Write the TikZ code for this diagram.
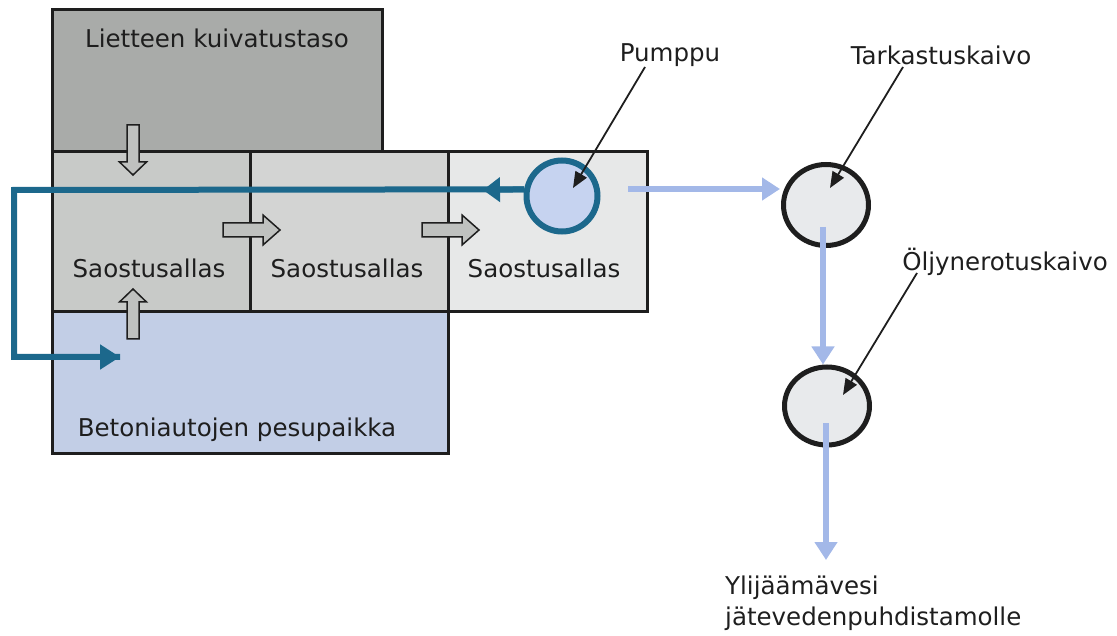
\documentclass[tikz,border=0pt]{standalone}
\usepackage{fontspec}
\setmainfont{DejaVu Sans}
\usetikzlibrary{arrows.meta,calc,shapes.geometric}
\definecolor{drygrey}{HTML}{A9ABA9}
\definecolor{poolA}{HTML}{C8CAC8}
\definecolor{poolB}{HTML}{D3D4D3}
\definecolor{poolC}{HTML}{E7E8E8}
\definecolor{washblue}{HTML}{C2CEE6}
\definecolor{pumpfill}{HTML}{C6D3F0}
\definecolor{pumpring}{HTML}{1C688C}
\definecolor{wellfill}{HTML}{E8EAEC}
\definecolor{flowblue}{HTML}{A3B8E8}
\definecolor{arrgrey}{HTML}{BFC1BF}
\definecolor{ink}{HTML}{1E1E1E}
\tikzset{
  area/.style={draw=ink, line width=3pt, rectangle, inner sep=0pt},
  lbl/.style={font=\fontsize{24.5}{31}\selectfont, text=ink, inner sep=0pt},
  well/.style={draw=ink, fill=wellfill, line width=5pt, ellipse, inner sep=0pt},
  flow/.style={draw=flowblue, line width=6pt, -{Triangle[length=18pt,width=22pt]}},
  recirc/.style={draw=pumpring, line width=6pt},
  pointer/.style={draw=ink, line width=1.8pt, -{Triangle[length=16pt,width=13pt]}},
  vblock/.pic={\draw[fill=arrgrey, draw=ink, line width=1.5pt]
     (0,-6) -- (37,-6) -- (37,-13.5) -- (50,0) -- (37,13.5) -- (37,6) -- (0,6) -- cycle;},
  hblock/.pic={\draw[fill=arrgrey, draw=ink, line width=1.5pt]
     (0,-7) -- (40,-7) -- (40,-15) -- (57,0) -- (40,15) -- (40,7) -- (0,7) -- cycle;}
}
\begin{document}
\begin{tikzpicture}[x=1pt,y=-1pt]
\useasboundingbox (0,0) rectangle (1117,636);
% areas
\node[area, fill=drygrey, minimum width=330pt, minimum height=142pt] (dry) at (217,81) {};
\node[area, fill=washblue, minimum width=396pt, minimum height=141pt] (wash) at (250,382.5) {};
\node[area, fill=poolA, minimum width=198pt, minimum height=160pt] (poolA) at (151,232) {};
\node[area, fill=poolB, minimum width=198pt, minimum height=160pt] (poolB) at (349,232) {};
\node[area, fill=poolC, minimum width=199pt, minimum height=160pt] (poolC) at (547.5,232) {};
% labels in areas
\node[lbl] (drylbl) at (217,38) {Lietteen kuivatustaso};
\node[lbl] (lblA) at (149,268) {Saostusallas};
\node[lbl] (lblB) at (347,268) {Saostusallas};
\node[lbl] (lblC) at (544,268) {Saostusallas};
\node[lbl] (washlbl) at (237,430) {Betoniautojen pesupaikka};
% block arrows
\pic at (133,125) [rotate=-90] {vblock};
\pic at (133,339) [rotate=90] {vblock};
\pic at (223,230) {hblock};
\pic at (422,230) {hblock};
% pump and recirculation
\node[circle, draw=pumpring, fill=pumpfill, line width=6pt, minimum size=71pt, inner sep=0pt] (pump) at (562,196) {};
\coordinate (c1) at (14,190);
\coordinate (c2) at (14,357);
\coordinate (c3) at (120,357);
\draw[recirc, line cap=butt] (pump.170) -- (c1) -- (c2) -- (c3);
\draw[recirc, -{Triangle[length=17pt,width=24pt]}] (pump.170) -- (483,190);
\draw[recirc, -{Triangle[length=20pt,width=24pt]}] (c2) -- (c3);
% wells
\node[well, minimum width=85pt, minimum height=81pt] (tk) at (826,205) {};
\node[well, minimum width=85pt, minimum height=78pt] (oe) at (827,406) {};
% flows
\coordinate (f0) at (628,189);
\draw[flow] (f0) -- (780,189);
\draw[flow] ($(tk.center)+(-3,22)$) -- ($(oe.north)+(-4,0)$);
\coordinate (fend) at (826,560);
\draw[flow] ($(oe.center)+(-1,17)$) -- (fend);
% labels with pointers
\node[lbl] (pumplbl) at (670,55) {Pumppu};
\node[lbl] (tklbl) at (941,55) {Tarkastuskaivo};
\node[lbl] (oelbl) at (1005,262) {Öljynerotuskaivo};
\node[lbl, anchor=west, align=left] (outlbl) at (725,603) {Ylijäämävesi\\jätevedenpuhdistamolle};
\draw[pointer] (645,67) -- ($(pump.center)+(11,-8)$);
\draw[pointer] (903,67) -- ($(tk.center)+(4,-17)$);
\draw[pointer] (917,273) -- ($(oe.center)+(16,-11)$);
\end{tikzpicture}
\end{document}
